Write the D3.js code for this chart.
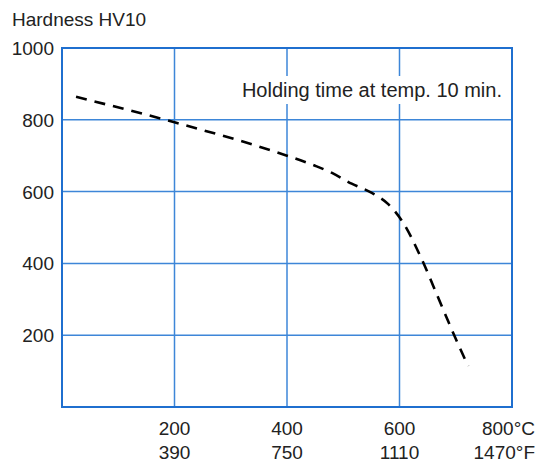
<!DOCTYPE html>
<html>
<head>
    <meta charset="utf-8">
    <title>Hardness vs tempering temperature</title>
    <script src="https://d3js.org/d3.v7.min.js"></script>
    <style>
        body {
            margin: 0;
            background: #fff;
        }
        svg text {
            font-family: "Liberation Sans", Arial, Helvetica, sans-serif;
            fill: #222;
        }
        .grid line {
            stroke: #3d86d8;
            stroke-width: 1.5px;
        }
        .frame {
            fill: none;
            stroke: #1f6fcf;
            stroke-width: 2px;
        }
        .curve {
            fill: none;
            stroke: #000;
            stroke-width: 2.6px;
            stroke-dasharray: 11 8;
        }
    </style>
</head>
<body>
    <svg id="chart" width="542" height="463"></svg>

    <script>
        // Values (temperature in °C, hardness HV10)
        const tempC = [25, 200, 400, 450, 480, 515, 550, 580, 605, 640, 670, 700, 722];
        const hardness = [864, 793, 700, 672, 652, 622, 597, 565, 517, 410, 300, 190, 114];

        const yTicks = [200, 400, 600, 800, 1000];
        const xTicks = [200, 400, 600, 800];
        const xLabelsC = ["200", "400", "600", "800°C"];
        const xLabelsF = ["390", "750", "1110", "1470°F"];

        const yTitle = "Hardness HV10";
        const note = "Holding time at temp. 10 min.";

        const svg = d3.select("#chart");

        const x = d3.scaleLinear().domain([0, 800]).range([62, 512]);
        const y = d3.scaleLinear().domain([0, 1000]).range([407, 48]);

        // Grid
        const grid = svg.append("g").attr("class", "grid");
        grid.selectAll("line.h")
            .data(yTicks)
            .join("line")
            .attr("class", "h")
            .attr("x1", x(0))
            .attr("x2", x(800))
            .attr("y1", d => y(d))
            .attr("y2", d => y(d));
        grid.selectAll("line.v")
            .data(xTicks)
            .join("line")
            .attr("class", "v")
            .attr("x1", d => x(d))
            .attr("x2", d => x(d))
            .attr("y1", y(0))
            .attr("y2", y(1000));

        // Frame
        svg.append("rect")
            .attr("class", "frame")
            .attr("x", x(0))
            .attr("y", y(1000))
            .attr("width", x(800) - x(0))
            .attr("height", y(0) - y(1000));

        // Y tick labels
        svg.append("g")
            .selectAll("text")
            .data(yTicks)
            .join("text")
            .attr("x", 54)
            .attr("y", d => y(d) + 7)
            .attr("text-anchor", "end")
            .attr("font-size", 19)
            .text(d => d);

        // X tick labels, two rows (°C and °F)
        const last = xTicks.length - 1;
        svg.append("g")
            .selectAll("text")
            .data(xTicks)
            .join("text")
            .attr("x", (d, i) => i === last ? 535 : x(d))
            .attr("y", 435)
            .attr("text-anchor", (d, i) => i === last ? "end" : "middle")
            .attr("font-size", 19)
            .text((d, i) => xLabelsC[i]);
        svg.append("g")
            .selectAll("text")
            .data(xTicks)
            .join("text")
            .attr("x", (d, i) => i === last ? 535 : x(d))
            .attr("y", 459)
            .attr("text-anchor", (d, i) => i === last ? "end" : "middle")
            .attr("font-size", 19)
            .text((d, i) => xLabelsF[i]);

        // Axis title
        svg.append("text")
            .attr("x", 12)
            .attr("y", 26)
            .attr("font-size", 19)
            .text(yTitle);

        // Note with white background over the grid
        const noteG = svg.append("g");
        const noteBg = noteG.append("rect").attr("fill", "#fff");
        const noteText = noteG.append("text")
            .attr("x", 502)
            .attr("y", 97)
            .attr("text-anchor", "end")
            .attr("font-size", 20)
            .text(note);
        const bb = noteText.node().getBBox();
        noteBg
            .attr("x", bb.x - 4)
            .attr("y", bb.y - 3)
            .attr("width", bb.width + 8)
            .attr("height", bb.height + 6);

        // Dashed hardness curve
        const line = d3.line()
            .x((d, i) => x(tempC[i]))
            .y(d => y(d))
            .curve(d3.curveMonotoneX);

        svg.append("path")
            .datum(hardness)
            .attr("class", "curve")
            .attr("d", line);
    </script>
</body>
</html>
